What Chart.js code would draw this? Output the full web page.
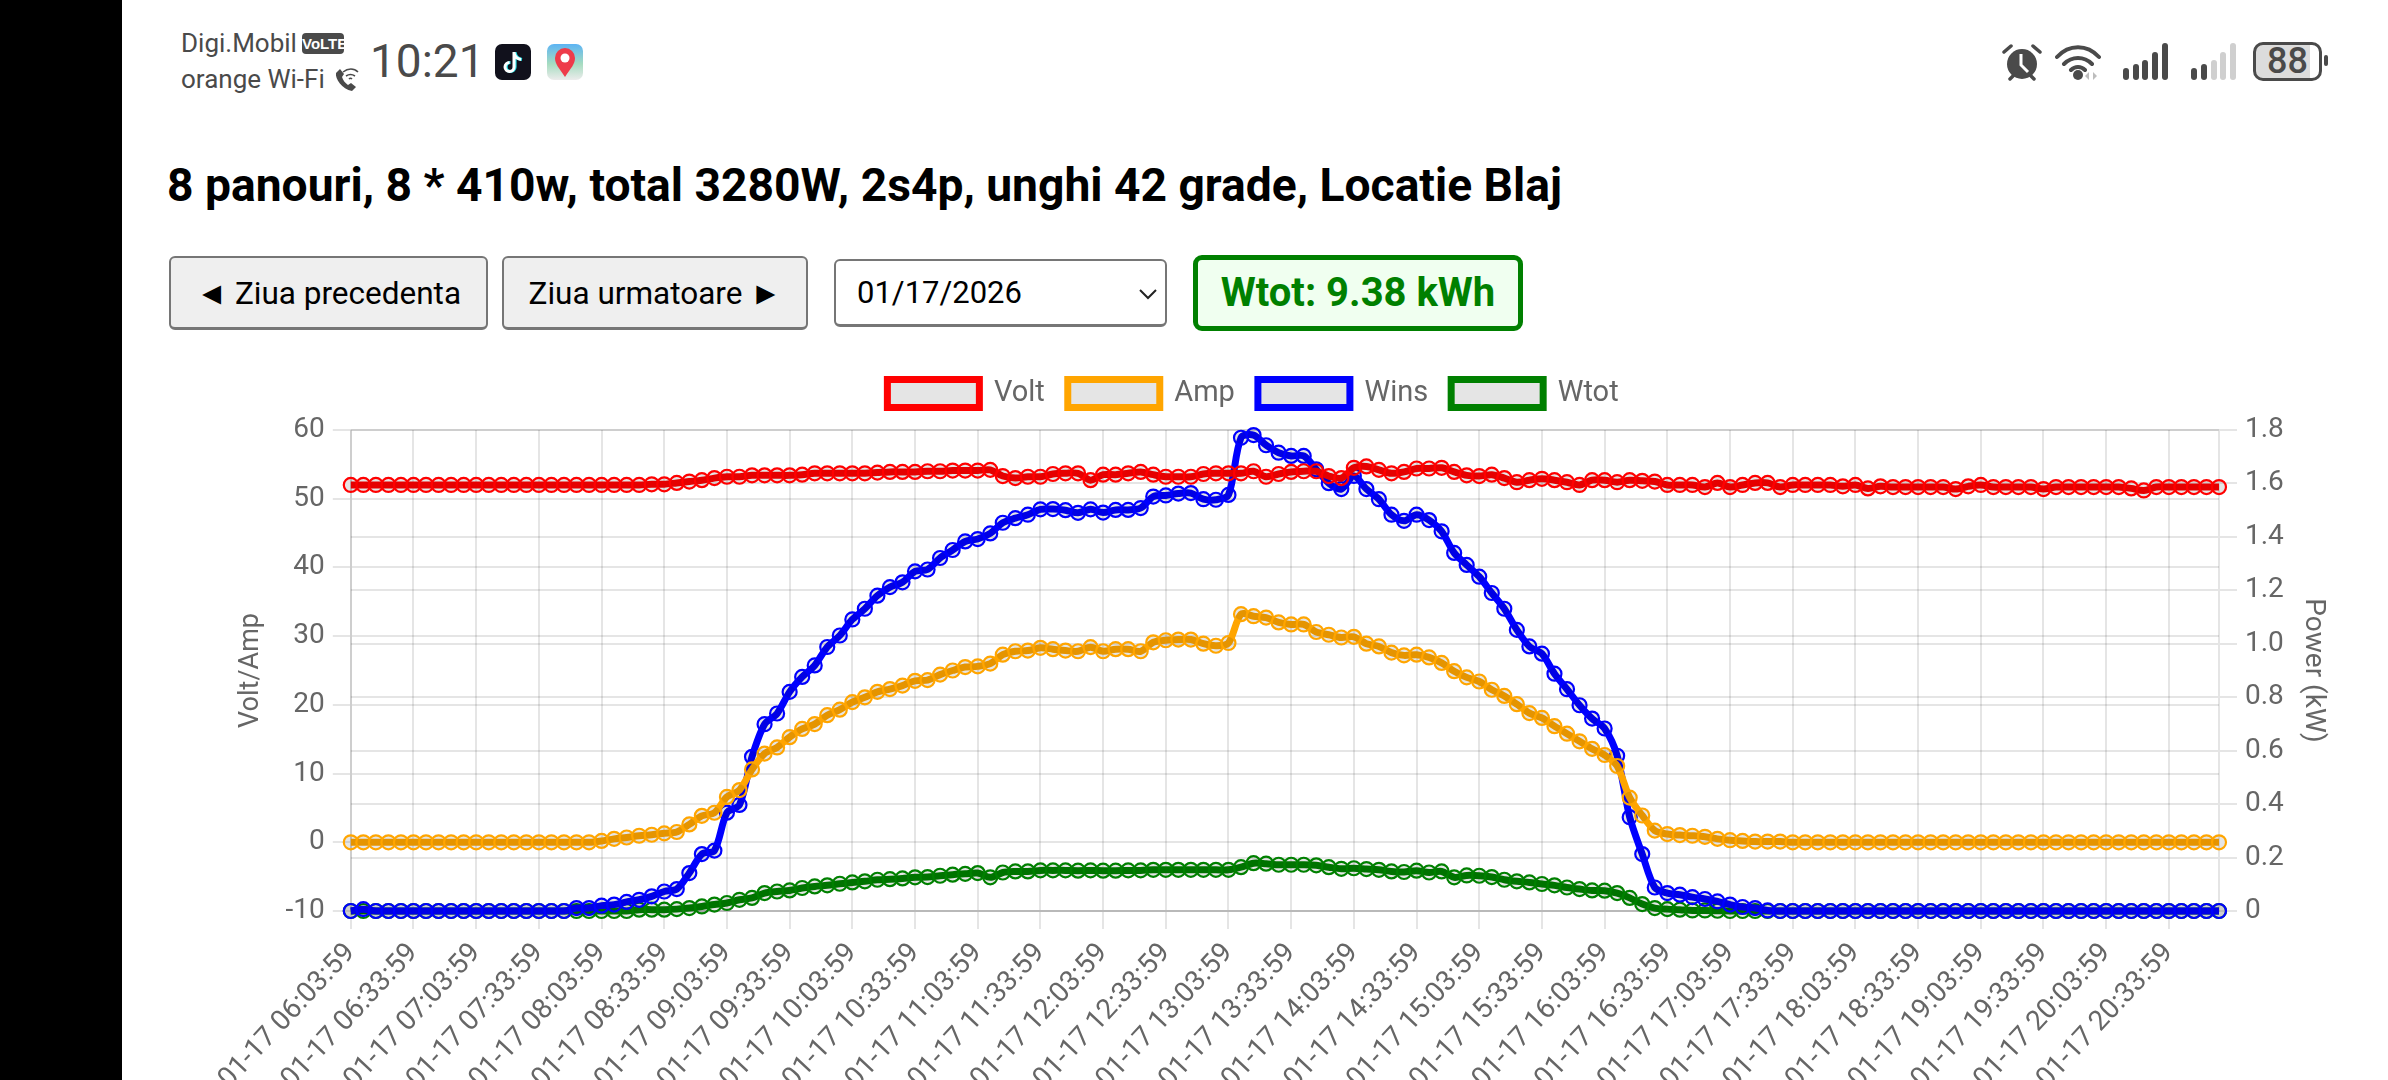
<!DOCTYPE html>
<html>
<head>
<meta charset="utf-8">
<title>Panouri</title>
<script src="https://cdn.jsdelivr.net/npm/chart.js@4"></script>
<style>
  html, body { margin: 0; width: 2388px; height: 1080px; overflow: hidden; background: #fff; font-family: Roboto, "Noto Sans", sans-serif; }
  .abs { position: absolute; white-space: nowrap; }
  #side { left: 0; top: 0; width: 122px; height: 1080px; background: #000; }
  .status { color: #4a4a4a; font-size: 26px; line-height: 28px; }
  #title { left: 167px; top: 155px; font-size: 46.2px; line-height: 60px; font-weight: 700; color: #000; }
  .btn { box-sizing: border-box; top: 256px; height: 74px; background: #efefef; border: 2px solid #767676; border-bottom-width: 3px; border-radius: 6px; font-size: 31.5px; line-height: 72px; text-align: center; color: #000; }
  #dateSel { box-sizing: border-box; left: 834px; top: 259px; width: 333px; height: 68px; border: 2px solid #767676; border-bottom-width: 3px; border-radius: 6px; font-size: 31px; line-height: 64px; padding-left: 21px; color: #000; background: #fff; }
  #wtot { box-sizing: border-box; left: 1193px; top: 255px; width: 330px; height: 76px; border: 5px solid green; border-radius: 9px; background: #f0fff0; color: green; font-size: 40px; font-weight: 700; line-height: 66px; text-align: center; }
  #chartBox { left: 168px; top: 356px; }
</style>
</head>
<body>
<div class="abs" id="side"></div>

<div class="abs status" style="left:181px;top:29px">Digi.Mobil</div>
<div class="abs" style="left:302px;top:33px;width:42px;height:21px;background:#4a4a4a;border-radius:4px;color:#fff;font:700 15px/21px 'Liberation Sans Narrow','Liberation Sans';text-align:center;overflow:hidden">VoLTE</div>
<div class="abs status" style="left:181px;top:65px">orange Wi-Fi</div>
<svg class="abs" style="left:333px;top:66px" width="26" height="27" viewBox="0 0 26 27">
  <path d="M3 7c-1 6 6 16 16 18l4-4-5-4-3 2c-3-2-5-5-6-8l2-3-4-5z" fill="#4a4a4a"/>
  <path d="M10 6c5-4 11-4 15 0M13 10c3-2 6-2 9 0M16 13c1-1 2-1 3 0" stroke="#4a4a4a" stroke-width="1.6" fill="none"/>
</svg>
<div class="abs" style="left:370px;top:34px;font-size:46px;line-height:54px;color:#4a4a4a">10:21</div>
<svg class="abs" style="left:495px;top:44px" width="36" height="36" viewBox="0 0 36 36">
  <rect width="36" height="36" rx="7" fill="#11111c"/>
  <path d="M20 8v15a4.5 4.5 0 1 1-4.5-4.5M20 9c1 4 3 6 7 6.500" stroke="#25e0e6" stroke-width="3.200" fill="none"/>
  <path d="M19 8v15a4.5 4.5 0 1 1-4.5-4.5M19 9c1 4 3 6 7 6.500" stroke="#fff" stroke-width="3" fill="none"/>
</svg>
<svg class="abs" style="left:547px;top:44px" width="36" height="36" viewBox="0 0 36 36">
  <defs><linearGradient id="sky" x1="0" y1="0" x2="0" y2="1"><stop offset="0" stop-color="#5cb4f4"/><stop offset="0.55" stop-color="#a6dcc0"/><stop offset="1" stop-color="#ececec"/></linearGradient></defs>
  <rect width="36" height="36" rx="7" fill="url(#sky)"/>
  <path d="M18 33C12 24 8 20 8 14a10 10 0 0 1 20 0c0 6-4 10-10 19z" fill="#ee3b4a"/>
  <circle cx="18" cy="14" r="4.500" fill="#fff"/>
</svg>

<svg class="abs" style="left:2002px;top:42px" width="40" height="40" viewBox="0 0 40 40">
  <circle cx="20" cy="22" r="15" fill="#4a4a4a"/>
  <path d="M19 12v11l7 7" stroke="#fff" stroke-width="3" fill="none"/>
  <path d="M2 10l7-6M38 10l-7-6M8 37l3-3M32 37l-3-3" stroke="#4a4a4a" stroke-width="3.500" stroke-linecap="round"/>
</svg>
<svg class="abs" style="left:2055px;top:42px" width="48" height="40" viewBox="0 0 48 40">
  <path d="M2 15c12-13 30-13 42 0M9 22c8-8 20-8 28 0M16 28c4-4 10-4 14 0" stroke="#4a4a4a" stroke-width="4" stroke-linecap="round" fill="none"/>
  <circle cx="23" cy="33" r="5" fill="#4a4a4a"/>
  <path d="M34 30v8l-4-4zM38 30v8l4-4z" fill="#bdbdbd"/>
</svg>
<svg class="abs" style="left:2123px;top:43px" width="115" height="37" viewBox="0 0 115 37">
  <g fill="#4a4a4a"><rect x="0" y="25" width="6" height="12" rx="3"/><rect x="10" y="21" width="6" height="16" rx="3"/><rect x="19" y="17" width="6" height="20" rx="3"/><rect x="29" y="9" width="6" height="28" rx="3"/><rect x="39" y="0" width="6" height="37" rx="3"/></g>
  <g fill="#4a4a4a"><rect x="68" y="25" width="6" height="12" rx="3"/><rect x="78" y="21" width="6" height="16" rx="3"/></g>
  <g fill="#cfcfcf"><rect x="88" y="17" width="6" height="20" rx="3"/><rect x="97" y="9" width="6" height="28" rx="3"/><rect x="107" y="0" width="6" height="37" rx="3"/></g>
</svg>
<div class="abs" style="box-sizing:border-box;left:2253px;top:42px;width:69px;height:39px;border:3px solid #4a4a4a;border-radius:10px;background:linear-gradient(to right,#dcdcdc 85%,#fff 85%);color:#4a4a4a;font-size:36px;font-weight:500;line-height:33px;text-align:center">88</div>
<div class="abs" style="left:2324px;top:55px;width:4px;height:11px;background:#4a4a4a;border-radius:2px"></div>

<div class="abs" id="title">8 panouri, 8 * 410w, total 3280W, 2s4p, unghi 42 grade, Locatie Blaj</div>
<div class="abs btn" style="left:169px;width:319px">◄ Ziua precedenta</div>
<div class="abs btn" style="left:502px;width:306px">Ziua urmatoare ►</div>
<div class="abs" id="dateSel">01/17/2026
  <svg class="abs" style="right:7px;top:27px" width="20" height="12" viewBox="0 0 20 12"><path d="M2 2l8 8 8-8" stroke="#222" stroke-width="2" fill="none"/></svg>
</div>
<div class="abs" id="wtot">Wtot: 9.38 kWh</div>

<div class="abs" id="chartBox"><canvas id="panelChart" width="2170" height="955"></canvas></div>

<script>
const times = [
  "06:03:59","06:09:59","06:15:59","06:21:59","06:27:59","06:33:59","06:39:59","06:45:59","06:51:59","06:57:59",
  "07:03:59","07:09:59","07:15:59","07:21:59","07:27:59","07:33:59","07:39:59","07:45:59","07:51:59","07:57:59",
  "08:03:59","08:09:59","08:15:59","08:21:59","08:27:59","08:33:59","08:39:59","08:45:59","08:51:59","08:57:59",
  "09:03:59","09:09:59","09:15:59","09:21:59","09:27:59","09:33:59","09:39:59","09:45:59","09:51:59","09:57:59",
  "10:03:59","10:09:59","10:15:59","10:21:59","10:27:59","10:33:59","10:39:59","10:45:59","10:51:59","10:57:59",
  "11:03:59","11:09:59","11:15:59","11:21:59","11:27:59","11:33:59","11:39:59","11:45:59","11:51:59","11:57:59",
  "12:03:59","12:09:59","12:15:59","12:21:59","12:27:59","12:33:59","12:39:59","12:45:59","12:51:59","12:57:59",
  "13:03:59","13:09:59","13:15:59","13:21:59","13:27:59","13:33:59","13:39:59","13:45:59","13:51:59","13:57:59",
  "14:03:59","14:09:59","14:15:59","14:21:59","14:27:59","14:33:59","14:39:59","14:45:59","14:51:59","14:57:59",
  "15:03:59","15:09:59","15:15:59","15:21:59","15:27:59","15:33:59","15:39:59","15:45:59","15:51:59","15:57:59",
  "16:03:59","16:09:59","16:15:59","16:21:59","16:27:59","16:33:59","16:39:59","16:45:59","16:51:59","16:57:59",
  "17:03:59","17:09:59","17:15:59","17:21:59","17:27:59","17:33:59","17:39:59","17:45:59","17:51:59","17:57:59",
  "18:03:59","18:09:59","18:15:59","18:21:59","18:27:59","18:33:59","18:39:59","18:45:59","18:51:59","18:57:59",
  "19:03:59","19:09:59","19:15:59","19:21:59","19:27:59","19:33:59","19:39:59","19:45:59","19:51:59","19:57:59",
  "20:03:59","20:09:59","20:15:59","20:21:59","20:27:59","20:33:59","20:39:59","20:45:59","20:51:59","20:57:59",
];
const day = "2026-01-17";

const volt = [
  52,52,52,52,52,52,52,52,52,52,
  52,52,52,52,52,52,52,52,52,52,
  52,52,52,52,52.1,52.1,52.3,52.5,52.7,53.0,
  53.2,53.2,53.4,53.4,53.4,53.4,53.5,53.7,53.7,53.7,
  53.7,53.7,53.8,53.9,53.9,53.9,54.0,54.0,54.1,54.1,
  54.1,54.2,53.3,53.0,53.2,53.2,53.6,53.7,53.7,52.7,
  53.5,53.5,53.7,53.9,53.5,53.2,53.2,53.2,53.6,53.7,
  53.7,53.7,54.0,53.2,53.6,53.9,54.0,54.0,53.3,53.0,
  54.5,54.7,54.2,53.7,53.9,54.4,54.4,54.5,53.9,53.4,
  53.3,53.5,53.0,52.4,52.7,52.9,52.7,52.4,52.0,52.7,
  52.7,52.4,52.7,52.6,52.5,52.0,52.0,52.0,51.7,52.3,
  51.7,52.0,52.3,52.3,51.7,52.0,52.0,52.0,52.0,51.8,
  52.0,51.5,51.8,51.7,51.7,51.7,51.7,51.7,51.4,51.8,
  52.0,51.7,51.7,51.7,51.7,51.4,51.7,51.7,51.7,51.7,
  51.7,51.7,51.5,51.2,51.7,51.7,51.7,51.7,51.7,51.7,
];
const amp = [
  0,0,0,0,0,0,0,0,0,0,
  0,0,0,0,0,0,0,0,0,0,
  0.2,0.5,0.7,0.95,1.1,1.3,1.5,2.6,3.85,4.3,
  6.6,7.6,10.6,12.9,13.8,15.3,16.5,17.2,18.5,19.3,
  20.4,21.1,21.9,22.3,22.8,23.5,23.6,24.4,25.0,25.5,
  25.6,26.0,27.3,27.8,27.9,28.3,28.1,27.9,27.8,28.4,
  27.8,28.1,28.1,27.8,29.1,29.4,29.5,29.5,28.9,28.6,
  29.0,33.2,32.9,32.7,32.0,31.7,31.7,30.6,30.2,29.8,
  29.9,28.9,28.5,27.6,27.2,27.3,26.9,26.1,24.9,24.0,
  23.4,22.2,21.3,20.1,18.8,18.1,16.9,15.8,14.7,13.6,
  12.7,11.1,6.5,3.9,1.7,1.2,1.05,0.95,0.8,0.5,
  0.3,0.2,0.1,0.1,0.1,0,0,0,0,0,
  0,0,0,0,0,0,0,0,0,0,
  0,0,0,0,0,0,0,0,0,0,
  0,0,0,0,0,0,0,0,0,0,
];
const wins = [
  0,0.007,0,0,0,0,0,0,0,0,
  0,0,0,0,0,0,0,0,0.011,0.011,
  0.02,0.024,0.034,0.042,0.055,0.073,0.082,0.142,0.213,0.226,
  0.368,0.397,0.577,0.699,0.739,0.82,0.876,0.919,0.988,1.031,
  1.091,1.131,1.18,1.212,1.23,1.271,1.278,1.321,1.351,1.383,
  1.392,1.413,1.453,1.47,1.483,1.503,1.504,1.5,1.49,1.503,
  1.491,1.501,1.501,1.508,1.551,1.555,1.562,1.564,1.541,1.539,
  1.557,1.771,1.781,1.743,1.715,1.703,1.703,1.653,1.601,1.579,
  1.628,1.579,1.541,1.483,1.46,1.483,1.463,1.421,1.34,1.295,
  1.251,1.19,1.131,1.052,0.99,0.963,0.888,0.83,0.77,0.72,
  0.683,0.581,0.351,0.213,0.088,0.067,0.061,0.052,0.045,0.036,
  0.024,0.015,0.011,0.002,0,0,0,0,0,0,
  0,0,0,0,0,0,0,0,0,0,
  0,0,0,0,0,0,0,0,0,0,
  0,0,0,0,0,0,0,0,0,0,
];
const wtot = [
  0,0,0,0,0,0,0,0,0,0,
  0,0,0,0,0,0,0,0,0,0,
  0,0,0,0.005,0.005,0.005,0.007,0.011,0.017,0.024,
  0.03,0.042,0.049,0.067,0.073,0.077,0.086,0.092,0.096,0.102,
  0.107,0.111,0.117,0.119,0.122,0.126,0.127,0.132,0.136,0.139,
  0.142,0.126,0.144,0.148,0.148,0.152,0.152,0.152,0.151,0.152,
  0.151,0.151,0.152,0.152,0.154,0.154,0.154,0.154,0.154,0.154,
  0.154,0.164,0.179,0.177,0.173,0.173,0.173,0.171,0.164,0.158,
  0.16,0.157,0.154,0.148,0.146,0.151,0.144,0.148,0.126,0.133,
  0.132,0.127,0.117,0.111,0.107,0.101,0.096,0.088,0.082,0.077,
  0.076,0.067,0.049,0.026,0.011,0.007,0.005,0.002,0.002,0.001,
  0,0,0,0,0,0,0,0,0,0,
  0,0,0,0,0,0,0,0,0,0,
  0,0,0,0,0,0,0,0,0,0,
  0,0,0,0,0,0,0,0,0,0,
];

const labels = times.map((t) => day + " " + t);
const fontFamily = "Roboto, 'Noto Sans', sans-serif";

function line(label, data, color, axis) {
  return {
    label: label,
    data: data,
    borderColor: color,
    yAxisID: axis,
    tension: 0.3,
    clip: false,
    borderWidth: 7,
    pointRadius: 7,
    pointBorderWidth: 2.2,
  };
}

// extra room under the legend
const legendGap = {
  id: "legendGap",
  beforeInit(chart) {
    const fit = chart.legend.fit;
    chart.legend.fit = function () {
      fit.call(this);
      this.height += 12;
    };
  },
};

new Chart(document.getElementById("panelChart"), {
  type: "line",
  plugins: [legendGap],
  data: {
    labels: labels,
    datasets: [
      line("Volt", volt, "red", "y"),
      line("Amp", amp, "orange", "y"),
      line("Wins", wins, "blue", "y1"),
      line("Wtot", wtot, "green", "y1"),
    ],
  },
  options: {
    responsive: false,
    animation: false,
    plugins: {
      tooltip: { enabled: false },
      legend: {
        labels: { boxWidth: 92, boxHeight: 28, padding: 23, color: "#666", font: { size: 29, family: fontFamily } },
      },
    },
    scales: {
      x: {
        afterFit: (s) => { s.height = 400; },
        grid: { lineWidth: 2, tickLength: 18 },
        border: { width: 2 },
        ticks: {
          autoSkip: false,
          minRotation: 47,
          maxRotation: 47,
          padding: 8,
          color: "#666",
          font: { size: 28, family: fontFamily },
          callback: function (value, index) {
            return index % 5 === 0 ? this.getLabelForValue(value) : null;
          },
        },
      },
      y: {
        position: "left",
        min: -10,
        max: 60,
        afterFit: (s) => { s.width = 180; },
        title: { display: true, text: "Volt/Amp", color: "#666", padding: { top: 64, bottom: 0 }, font: { size: 27, family: fontFamily } },
        grid: { lineWidth: 2, tickLength: 18 },
        border: { width: 2 },
        ticks: { stepSize: 10, padding: 8, color: "#666", font: { size: 28, family: fontFamily } },
      },
      y1: {
        position: "right",
        min: 0,
        max: 1.8,
        afterFit: (s) => { s.width = 119; },
        title: { display: true, text: "Power (kW)", color: "#666", padding: { top: 8, bottom: 0 }, font: { size: 28, family: fontFamily } },
        grid: { lineWidth: 2, tickLength: 18 },
        border: { width: 2 },
        ticks: { stepSize: 0.2, padding: 8, color: "#666", font: { size: 28, family: fontFamily } },
      },
    },
  },
});
</script>
</body>
</html>
